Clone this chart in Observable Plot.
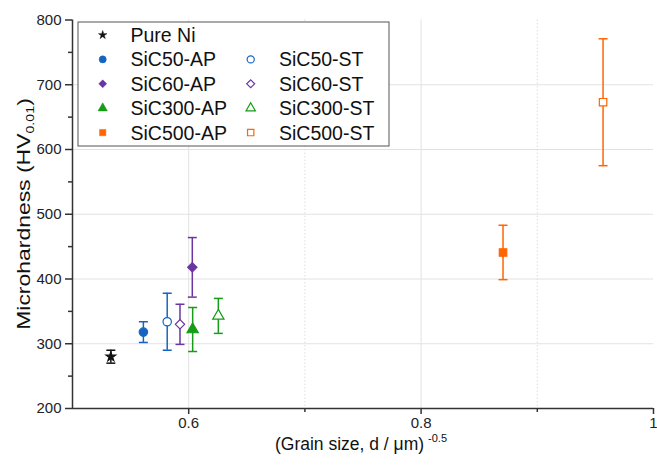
<!DOCTYPE html>
<html>
<head>
<meta charset="utf-8">
<script src="https://cdn.jsdelivr.net/npm/d3@7"></script>
<script src="https://cdn.jsdelivr.net/npm/@observablehq/plot@0.6"></script>
<style>
  html, body { margin: 0; padding: 0; background: white; }
  svg { display: block; }
</style>
</head>
<body>
<div id="chart"></div>
<script>
// ---- data ----
const samples  = ["Pure Ni", "SiC50-AP", "SiC50-ST", "SiC60-AP", "SiC60-ST", "SiC300-AP", "SiC300-ST", "SiC500-AP", "SiC500-ST"];
const grain    = [0.533, 0.561, 0.5815, 0.6031, 0.5925, 0.6034, 0.6255, 0.8705, 0.9566];
const hardness = [280, 318, 334, 418, 330, 322, 343, 441, 673];
const errors   = [10, 16, 44, 46, 31, 34, 27, 42, 98];
const colors   = ["#111111", "#1565c0", "#1565c0", "#6a35a0", "#6a35a0", "#169c16", "#169c16", "#ff6600", "#ff6600"];
const symbols  = ["star", "circle", "circle", "diamond2", "diamond2", "triangle", "triangle", "square", "square"];
const filled   = [true, true, false, true, false, true, false, true, false];

const xTicks = [0.6, 0.8, 1];
const xTickLabels = ["0.6", "0.8", "1"];
const xMinor = [0.7, 0.9];
const yTicks = [200, 300, 400, 500, 600, 700, 800];
const yMinor = [250, 350, 450, 550, 650, 750];
const yGrid = [300, 400, 500, 600, 700];

const legendCol1 = ["Pure Ni", "SiC50-AP", "SiC60-AP", "SiC300-AP", "SiC500-AP"];
const legendCol2 = [null, "SiC50-ST", "SiC60-ST", "SiC300-ST", "SiC500-ST"];

const rows = samples.map((s, i) => ({
  name: s, x: grain[i], y: hardness[i], e: errors[i],
  color: colors[i], sym: symbols[i], filled: filled[i]
}));
const caps = rows.flatMap(d => [{x: d.x, y: d.y - d.e, color: d.color}, {x: d.x, y: d.y + d.e, color: d.color}]);

const capSymbol = { draw(ctx) { ctx.moveTo(-4.5, 0); ctx.lineTo(4.5, 0); } };

const FONT = "'Liberation Sans', Arial, Helvetica, sans-serif";
const AX = "#333";

const chart = Plot.plot({
  width: 657, height: 466,
  marginLeft: 72, marginRight: 4, marginTop: 19.5, marginBottom: 58,
  x: {domain: [0.5, 1]},
  y: {domain: [200, 800]},
  color: {type: "identity"},
  style: {fontFamily: FONT, fontSize: "15px", color: "#222", background: "white"},
  marks: [
    Plot.ruleY(yGrid, {stroke: "#e2e2e2", strokeWidth: 1}),
    Plot.ruleX(xTicks.filter(d => d < 1), {stroke: "#e2e2e2", strokeWidth: 1}),
    Plot.ruleX(xMinor, {stroke: "#dddddd", strokeWidth: 1, strokeDasharray: "1.5,2"}),
    Plot.axisX({ticks: xTicks, tickFormat: d => xTickLabels[xTicks.indexOf(d)], tickSize: 6, tickPadding: 3, label: null, stroke: AX, strokeWidth: 1.5, fontSize: 15}),
    Plot.axisX({ticks: xMinor, tickFormat: () => "", tickSize: 4, label: null, stroke: AX, strokeWidth: 1.5}),
    Plot.axisY({ticks: yTicks, tickSize: 7, tickPadding: 4, label: null, stroke: AX, strokeWidth: 1.5, fontSize: 15}),
    Plot.axisY({ticks: yMinor, tickFormat: () => "", tickSize: 4, label: null, stroke: AX, strokeWidth: 1.5}),
    Plot.ruleX([0.5], {stroke: AX, strokeWidth: 1.5}),
    Plot.ruleY([200], {stroke: AX, strokeWidth: 1.5}),
    Plot.ruleX(rows, {x: "x", y1: d => d.y - d.e, y2: d => d.y + d.e, stroke: "color", strokeWidth: 1.5}),
    Plot.dot(caps, {x: "x", y: "y", symbol: capSymbol, r: 4.5, stroke: "color", fill: "none", strokeWidth: 1.5}),
    ...rows.map(d => Plot.dot([d], {
      x: "x", y: "y", symbol: d.sym,
      r: d.sym === "star" ? 3 : 4.2,
      fill: d.filled ? d.color : "white", stroke: d.color, strokeWidth: 1.2
    }))
  ]
});

document.getElementById("chart").appendChild(chart);

const svg = d3.select(chart);

// axis titles
const xl = svg.append("text")
  .attr("x", 361).attr("y", 450)
  .attr("text-anchor", "middle")
  .style("font-family", FONT).style("font-size", "17.5px").attr("fill", "#111");
xl.append("tspan").text("(Grain size, d / μm)");
xl.append("tspan").attr("dx", 4).attr("dy", -8).style("font-size", "11px").text("-0.5");

const yl = svg.append("text")
  .attr("transform", "translate(30,214) rotate(-90) scale(1.24,1)")
  .attr("text-anchor", "middle")
  .style("font-family", FONT).style("font-size", "18.5px").attr("fill", "#111");
yl.append("tspan").text("Microhardness (HV");
yl.append("tspan").attr("dy", 4).style("font-size", "11.5px").text("0.01");
yl.append("tspan").attr("dy", -4).text(")");

// legend
const lg = svg.append("g");
lg.append("rect").attr("x", 78).attr("y", 22).attr("width", 311).attr("height", 124)
  .attr("fill", "white").attr("stroke", "#555").attr("stroke-width", 1);

const symMap = {star: d3.symbolStar, circle: d3.symbolCircle, diamond2: d3.symbolDiamond2, triangle: d3.symbolTriangle, square: d3.symbolSquare};
const rowY = i => 35 + i * 24.4;
function drawEntry(name, cx, tx, y) {
  const i = samples.indexOf(name);
  const sym = symbols[i];
  const size = sym === "star" ? 22 : (sym === "triangle" ? 38 : 40);
  lg.append("path")
    .attr("d", d3.symbol().type(symMap[sym]).size(size)())
    .attr("transform", `translate(${cx},${y})`)
    .attr("fill", filled[i] ? colors[i] : "white")
    .attr("stroke", colors[i]).attr("stroke-width", filled[i] ? 0.5 : 1.2);
  lg.append("text").attr("x", tx).attr("y", y).attr("dy", "0.36em")
    .attr("text-anchor", "start")
    .style("font-family", FONT).style("font-size", "19.5px").attr("fill", "#111")
    .text(name);
}
legendCol1.forEach((n, i) => { if (n) drawEntry(n, 102.7, 130.5, rowY(i)); });
legendCol2.forEach((n, i) => { if (n) drawEntry(n, 250.7, 279, rowY(i)); });
</script>
</body>
</html>
